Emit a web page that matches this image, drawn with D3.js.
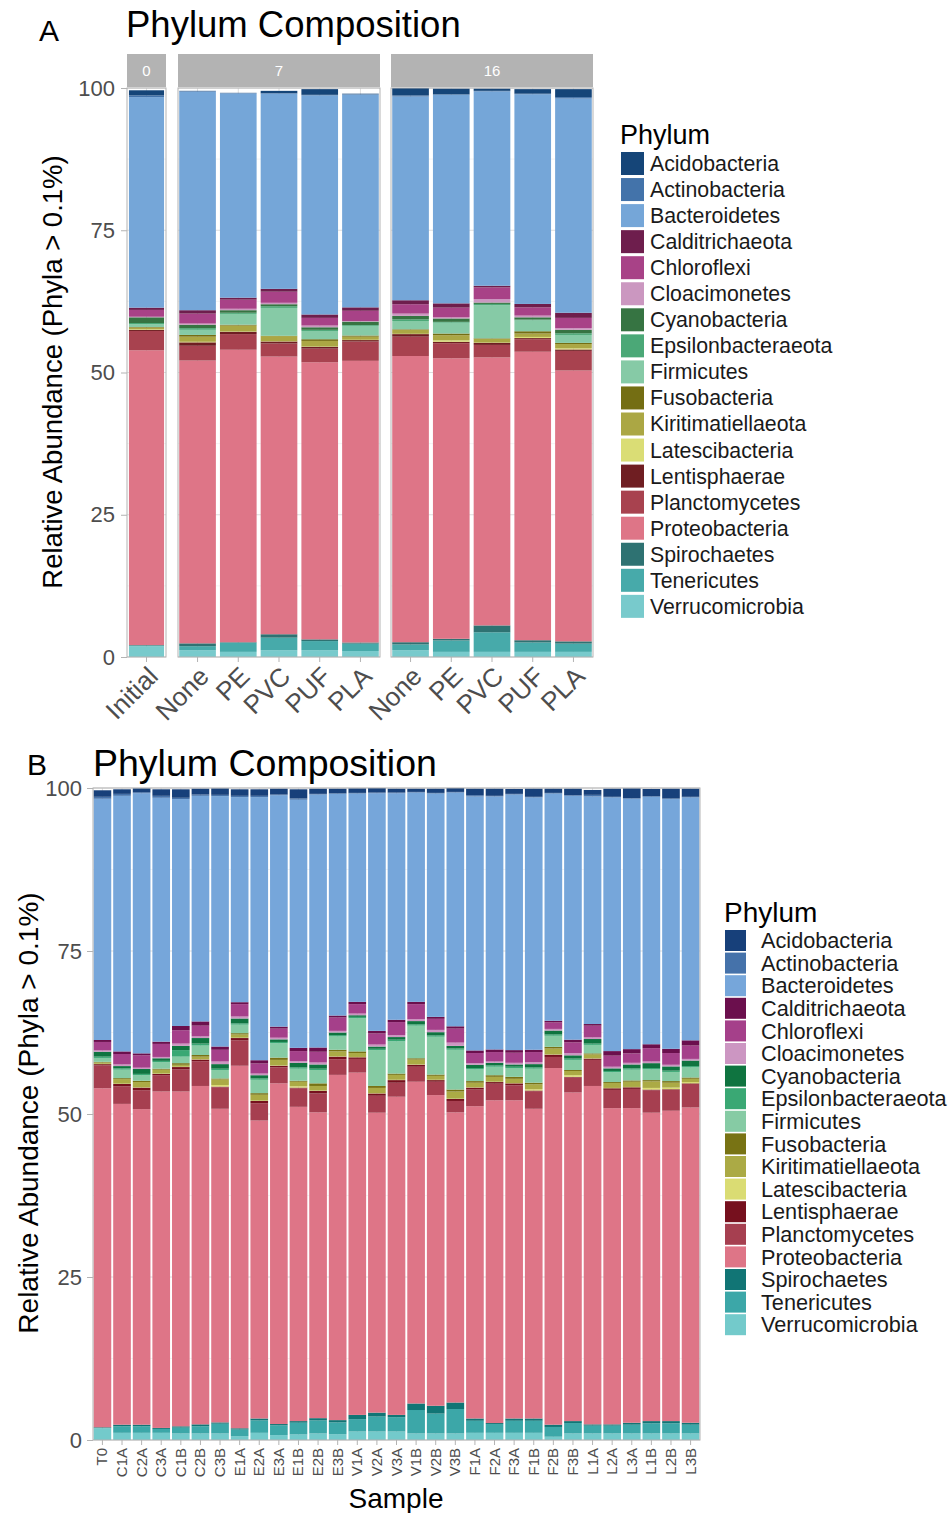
<!DOCTYPE html>
<html>
<head>
<meta charset="utf-8">
<style>
  body { margin: 0; background: #fff; }
  text { font-family: "Liberation Sans", Arial, sans-serif; }
</style>
</head>
<body>
<svg width="951" height="1513"></svg>
<script src="https://d3js.org/d3.v7.min.js"></script>
<script>
var phyla = ["Acidobacteria", "Actinobacteria", "Bacteroidetes", "Calditrichaeota", "Chloroflexi",
  "Cloacimonetes", "Cyanobacteria", "Epsilonbacteraeota", "Firmicutes", "Fusobacteria",
  "Kiritimatiellaeota", "Latescibacteria", "Lentisphaerae", "Planctomycetes", "Proteobacteria",
  "Spirochaetes", "Tenericutes", "Verrucomicrobia"];

var colorsA = ["#154578", "#4373AA", "#75A6D8", "#6E1E4D", "#A84287", "#CB97C0", "#367442", "#4BA877",
  "#86CAA6", "#746E13", "#ABA744", "#DADD75", "#6F1E22", "#A8424F", "#DE7587", "#2E7272", "#47AAAA", "#78CACC"];
var colorsB = ["#17407A", "#4572AA", "#76A6DA", "#6B0F4D", "#A5408A", "#CC96C2", "#0F7440", "#3AA874",
  "#86CBA4", "#787314", "#ABAA45", "#DADC73", "#76101E", "#A63F50", "#DE7587", "#117575", "#3CA7A8", "#73CACB"];

var yTicks = [0, 25, 50, 75, 100];

// ---- panel A : facets by day ----
var daysA = ["0", "7", "16"];
var samplesA = [["Initial"], ["None", "PE", "PVC", "PUF", "PLA"], ["None", "PE", "PVC", "PUF", "PLA"]];

// values follow the order of phyla
var a_Initial = [0.9, 0.3, 37.0, 0.4, 1.2, 0.1, 1.0, 0.2, 0.5, 0.1, 0.3, 0.1, 0.2, 3.4, 51.8, 0.1, 0.1, 1.9];
var a_None7  = [0.05, 0.1, 38.4, 0.6, 1.75, 0.2, 0.6, 0.3, 0.9, 0.3, 0.9, 0.1, 0.6, 2.6, 49.7, 0.5, 0.7, 1.2];
var a_PE7    = [0.05, 0.05, 35.9, 0.35, 1.6, 0.25, 0.45, 0.2, 1.9, 0.15, 1.05, 0.05, 0.4, 2.75, 51.4, 0.1, 1.6, 0.9];
var a_PVC7   = [0.4, 0.1, 34.3, 0.5, 1.95, 0.25, 0.35, 0.3, 4.9, 0.05, 0.9, 0.05, 0.35, 2.3, 48.8, 0.6, 2.2, 1.2];
var a_PUF7   = [1.0, 0.1, 38.5, 0.6, 1.35, 0.3, 0.45, 0.2, 1.45, 0.3, 1.0, 0.05, 0.3, 2.4, 48.7, 0.3, 1.6, 1.2];
var a_PLA7   = [0.1, 0.05, 37.4, 0.6, 1.8, 0.1, 0.6, 0.15, 1.7, 0.2, 0.55, 0.05, 0.25, 3.4, 49.5, 0.2, 1.3, 1.05];
var a_None16 = [1.3, 0.2, 35.8, 0.7, 1.65, 0.4, 0.6, 0.3, 1.45, 0.1, 0.7, 0.05, 0.45, 3.4, 50.3, 0.4, 1.0, 1.2];
var a_PE16   = [1.0, 0.1, 36.65, 0.75, 1.7, 0.2, 0.6, 0.15, 1.9, 0.3, 0.9, 0.25, 0.25, 2.65, 49.3, 0.3, 2.0, 0.9];
var a_PVC16  = [0.4, 0.1, 34.15, 0.3, 2.05, 0.6, 0.25, 0.25, 5.8, 0.1, 0.65, 0.05, 0.35, 2.2, 47.1, 1.2, 3.45, 0.9];
var a_PUF16  = [0.8, 0.1, 36.85, 0.6, 1.45, 0.3, 0.4, 0.15, 1.9, 0.4, 0.6, 0.2, 0.2, 2.2, 50.7, 0.4, 1.65, 0.9];
var a_PLA16  = [1.4, 0.25, 37.65, 0.9, 1.8, 0.3, 0.6, 0.3, 1.4, 0.2, 0.75, 0.2, 0.25, 3.45, 47.6, 0.4, 1.45, 0.9];

var valuesA = [[a_Initial],
  [a_None7, a_PE7, a_PVC7, a_PUF7, a_PLA7],
  [a_None16, a_PE16, a_PVC16, a_PUF16, a_PLA16]];

// ---- panel B : every sample ----
var samplesB = ["T0", "C1A", "C2A", "C3A", "C1B", "C2B", "C3B", "E1A", "E2A", "E3A", "E1B", "E2B", "E3B",
  "V1A", "V2A", "V3A", "V1B", "V2B", "V3B", "F1A", "F2A", "F3A", "F1B", "F2B", "F3B",
  "L1A", "L2A", "L3A", "L1B", "L2B", "L3B"];

var b_T0  = [1.0, 0.3, 37.0, 0.3, 1.3, 0.2, 0.75, 0.2, 0.6, 0.1, 0.2, 0.05, 0.2, 3.5, 52.0, 0.1, 0.05, 1.8];
var b_C1A = [0.7, 0.3, 39.2, 0.4, 1.6, 0.25, 0.35, 0.2, 1.3, 0.15, 0.7, 0.05, 0.35, 2.7, 49.2, 0.25, 1.0, 1.1];
var b_C2A = [0.6, 0.15, 39.9, 0.3, 1.9, 0.2, 0.75, 0.2, 0.85, 0.2, 0.8, 0.05, 0.4, 2.9, 48.4, 0.25, 1.0, 1.1];
var b_C3A = [1.0, 0.3, 37.4, 0.35, 2.0, 0.2, 0.4, 0.2, 1.0, 0.15, 0.6, 0.05, 0.2, 2.5, 51.6, 0.15, 0.6, 1.1];
var b_C1B = [1.3, 0.2, 34.8, 0.65, 2.05, 0.35, 0.65, 1.0, 1.0, 0.25, 0.3, 0.05, 0.35, 3.4, 51.35, 0.2, 0.9, 1.0];
var b_C2B = [0.9, 0.2, 34.6, 0.65, 1.65, 0.25, 0.85, 0.3, 1.45, 0.25, 0.4, 0.05, 0.25, 3.8, 51.9, 0.3, 1.1, 1.0];
var b_C3B = [1.0, 0.2, 38.4, 0.5, 1.8, 0.4, 0.7, 0.2, 1.3, 0.15, 0.85, 0.25, 0.1, 3.3, 48.1, 0.2, 1.5, 1.0];
var b_E1A = [1.0, 0.2, 31.45, 0.3, 1.9, 0.3, 0.75, 0.2, 1.3, 0.2, 0.5, 0.05, 0.35, 3.9, 55.6, 0.2, 1.0, 0.6];
var b_E2A = [1.0, 0.2, 40.35, 0.5, 1.55, 0.25, 0.5, 0.2, 2.05, 0.25, 0.9, 0.05, 0.35, 2.65, 45.7, 0.3, 1.9, 1.1];
var b_E3A = [0.9, 0.1, 35.5, 0.3, 1.4, 0.25, 0.4, 0.2, 2.2, 0.35, 0.85, 0.05, 0.25, 2.45, 52.25, 0.2, 1.5, 0.75];
var b_E1B = [1.4, 0.2, 38.05, 0.5, 1.55, 0.25, 0.7, 0.2, 1.85, 0.15, 0.7, 0.2, 0.1, 2.85, 48.2, 0.25, 1.8, 0.85];
var b_E2B = [0.8, 0.1, 38.8, 0.65, 1.65, 0.3, 0.65, 0.2, 2.05, 0.4, 0.7, 0.05, 0.4, 2.9, 46.9, 0.35, 2.0, 1.0];
var b_E3B = [0.7, 0.1, 34.0, 0.3, 2.05, 0.25, 0.4, 0.2, 2.05, 0.25, 0.75, 0.05, 0.4, 2.4, 52.95, 0.35, 1.8, 0.9];
var b_V1A = [0.7, 0.1, 31.95, 0.35, 1.45, 0.25, 0.25, 0.2, 5.1, 0.25, 0.6, 0.05, 0.25, 2.1, 52.5, 0.65, 1.9, 1.3];
var b_V2A = [0.7, 0.1, 36.45, 0.4, 1.7, 0.3, 0.35, 0.2, 5.5, 0.3, 0.8, 0.05, 0.35, 2.6, 46.0, 0.6, 2.3, 1.3];
var b_V3A = [0.6, 0.1, 34.75, 0.35, 2.0, 0.3, 0.4, 0.25, 4.95, 0.2, 0.75, 0.05, 0.4, 2.15, 48.8, 0.35, 2.2, 1.3];
var b_V1B = [0.5, 0.1, 32.1, 0.35, 2.3, 0.3, 0.5, 0.2, 5.0, 0.2, 0.75, 0.05, 0.3, 2.3, 49.35, 1.0, 3.6, 1.0];
var b_V2B = [0.65, 0.1, 34.25, 0.3, 1.7, 0.35, 0.5, 0.2, 5.8, 0.2, 0.6, 0.05, 0.25, 2.05, 47.65, 1.2, 3.05, 1.0];
var b_V3B = [0.6, 0.1, 35.85, 0.35, 2.15, 0.5, 0.4, 0.2, 6.1, 0.3, 1.1, 0.05, 0.3, 1.75, 44.5, 1.0, 3.75, 1.0];
var b_F1A = [1.0, 0.2, 38.95, 0.4, 1.55, 0.25, 0.5, 0.2, 1.8, 0.25, 0.7, 0.05, 0.3, 2.55, 47.9, 0.35, 1.85, 1.1];
var b_F2A = [1.1, 0.1, 38.8, 0.4, 1.45, 0.2, 0.4, 0.2, 1.3, 0.25, 0.75, 0.05, 0.25, 2.55, 49.5, 0.15, 1.35, 1.1];
var b_F3A = [0.75, 0.1, 39.2, 0.4, 1.55, 0.25, 0.35, 0.2, 1.35, 0.3, 0.65, 0.05, 0.3, 2.3, 48.8, 0.35, 1.85, 1.1];
var b_F1B = [1.25, 0.1, 38.7, 0.35, 1.55, 0.3, 0.5, 0.2, 2.15, 0.25, 0.75, 0.2, 0.1, 2.7, 47.5, 0.35, 1.85, 1.1];
var b_F2B = [0.65, 0.1, 34.85, 0.25, 1.0, 0.25, 0.6, 0.2, 1.7, 0.25, 0.9, 0.05, 0.35, 1.7, 54.7, 0.35, 1.5, 0.5];
var b_F3B = [1.0, 0.1, 37.4, 0.4, 1.65, 0.35, 0.5, 0.2, 1.55, 0.15, 0.65, 0.25, 0.1, 2.3, 50.4, 0.3, 1.6, 1.0];
var b_L1A = [0.75, 0.25, 34.9, 0.25, 1.8, 0.25, 0.7, 0.2, 1.3, 0.15, 0.6, 0.05, 0.2, 4.0, 51.9, 0.2, 1.2, 1.0];
var b_L2A = [1.25, 0.1, 38.9, 0.7, 1.7, 0.25, 0.4, 0.2, 1.5, 0.15, 0.75, 0.05, 0.25, 2.8, 48.5, 0.2, 1.2, 1.0];
var b_L3A = [1.5, 0.1, 38.4, 0.65, 1.45, 0.25, 0.6, 0.2, 1.65, 0.2, 0.8, 0.05, 0.25, 2.95, 48.25, 0.3, 1.35, 1.0];
var b_L1B = [1.1, 0.1, 37.95, 0.6, 2.05, 0.25, 0.75, 0.2, 1.65, 0.2, 1.0, 0.25, 0.1, 3.45, 47.3, 0.35, 1.55, 1.0];
var b_L2B = [1.5, 0.1, 38.3, 0.65, 1.8, 0.25, 0.65, 0.2, 1.4, 0.25, 0.75, 0.25, 0.1, 3.2, 47.6, 0.35, 1.55, 1.0];
var b_L3B = [1.25, 0.1, 37.25, 0.8, 2.05, 0.25, 0.85, 0.2, 1.55, 0.2, 0.5, 0.2, 0.1, 3.6, 48.35, 0.3, 1.35, 1.0];

var valuesB = [b_T0, b_C1A, b_C2A, b_C3A, b_C1B, b_C2B, b_C3B, b_E1A, b_E2A, b_E3A, b_E1B, b_E2B, b_E3B,
  b_V1A, b_V2A, b_V3A, b_V1B, b_V2B, b_V3B, b_F1A, b_F2A, b_F3A, b_F1B, b_F2B, b_F3B,
  b_L1A, b_L2A, b_L3A, b_L1B, b_L2B, b_L3B];

// ---------------------------------------------------------------
var svg = d3.select("svg");
var axisGrey = "#4D4D4D", lineGrey = "#B3B3B3";

function toRows(names, vals) {
  return names.map(function(n, i) {
    var row = {sample: n};
    phyla.forEach(function(p, j) { row[p] = vals[i][j]; });
    return row;
  });
}

// first phylum ends on top, like ggplot's stacking
var stack = d3.stack().keys(phyla.slice().reverse());

function drawPanel(g, x, y, rows, color) {
  var x0 = x.range()[0], x1 = x.range()[1];
  var y0 = y.range()[0], y1 = y.range()[1];
  // grid
  g.selectAll(".minor").data([12.5, 37.5, 62.5, 87.5]).enter().append("line")
    .attr("x1", x0).attr("x2", x1).attr("y1", y).attr("y2", y)
    .attr("stroke", "#EDEDED").attr("stroke-width", 0.6);
  g.selectAll(".major").data(yTicks).enter().append("line")
    .attr("x1", x0).attr("x2", x1).attr("y1", y).attr("y2", y)
    .attr("stroke", "#DEDEDE").attr("stroke-width", 1);
  g.selectAll(".vgrid").data(x.domain()).enter().append("line")
    .attr("x1", function(d) { return x(d) + x.bandwidth() / 2; })
    .attr("x2", function(d) { return x(d) + x.bandwidth() / 2; })
    .attr("y1", y0).attr("y2", y1)
    .attr("stroke", "#DEDEDE").attr("stroke-width", 1);

  var layers = stack(rows);
  g.selectAll(".layer").data(layers).enter().append("g")
    .attr("fill", function(d) { return color(d.key); })
    .selectAll("rect").data(function(d) { return d; }).enter().append("rect")
    .attr("x", function(d) { return x(d.data.sample); })
    .attr("width", x.bandwidth())
    .attr("y", function(d) { return y(d[1]); })
    .attr("height", function(d) { return y(d[0]) - y(d[1]); });

  g.append("rect")
    .attr("x", x0).attr("y", y1).attr("width", x1 - x0).attr("height", y0 - y1)
    .attr("fill", "none").attr("stroke", lineGrey).attr("stroke-width", 1);
}

function styleAxis(ax, size) {
  ax.select(".domain").remove();
  ax.selectAll(".tick line").attr("stroke", lineGrey);
  ax.selectAll(".tick text").attr("fill", axisGrey).style("font-size", size + "px")
    .style("font-family", "'Liberation Sans', Arial, sans-serif");
}

function drawLegend(x, y, step, size, gap, fontSize, titleSize, color) {
  var lg = svg.append("g").attr("transform", "translate(" + x + "," + y + ")");
  lg.append("text").attr("x", -1).attr("y", -8).style("font-size", titleSize + "px")
    .attr("fill", "#000").text("Phylum");
  var item = lg.selectAll(".item").data(phyla).enter().append("g")
    .attr("transform", function(d, i) { return "translate(0," + (i * step) + ")"; });
  item.append("rect").attr("width", size).attr("height", size)
    .attr("fill", function(d) { return color(d); });
  item.append("text").attr("x", size + gap).attr("y", size / 2)
    .attr("dy", "0.35em").style("font-size", fontSize + "px").attr("fill", "#1A1A1A")
    .text(function(d) { return d; });
}

// ---------------- Panel A ----------------
var colorA = d3.scaleOrdinal().domain(phyla).range(colorsA);
var yA = d3.scaleLinear().domain([0, 100]).range([657, 88]);
var facetX = [[127, 166], [178, 380], [391, 593]];

svg.append("text").attr("x", 39).attr("y", 41).style("font-size", "30px").text("A");
svg.append("text").attr("x", 126).attr("y", 37).style("font-size", "36.5px").text("Phylum Composition");

daysA.forEach(function(day, f) {
  var x = d3.scaleBand().domain(samplesA[f]).range(facetX[f]).paddingInner(0.1).paddingOuter(0.03);
  var g = svg.append("g");
  drawPanel(g, x, yA, toRows(samplesA[f], valuesA[f]), colorA);

  // strip
  svg.append("rect").attr("x", facetX[f][0]).attr("y", 54)
    .attr("width", facetX[f][1] - facetX[f][0]).attr("height", 33).attr("fill", lineGrey);
  svg.append("text").attr("x", (facetX[f][0] + facetX[f][1]) / 2).attr("y", 71)
    .attr("dy", "0.35em").attr("text-anchor", "middle").attr("fill", "#fff")
    .style("font-size", "15px").text(day);

  var ax = svg.append("g").attr("transform", "translate(0,657)")
    .call(d3.axisBottom(x).tickSize(5));
  styleAxis(ax, 26);
  ax.selectAll(".tick text").attr("y", 0).attr("dy", null)
    .attr("transform", "translate(13,21) rotate(-45)").style("text-anchor", "end");
});

var axA = svg.append("g").attr("transform", "translate(127,0)")
  .call(d3.axisLeft(yA).tickValues(yTicks).tickSize(6).tickPadding(6));
styleAxis(axA, 22);

svg.append("text").attr("transform", "translate(62,372) rotate(-90)")
  .attr("text-anchor", "middle").style("font-size", "27.5px")
  .text("Relative Abundance (Phyla > 0.1%)");

drawLegend(621, 152, 26.05, 23, 6, 21.3, 27, colorA);

// ---------------- Panel B ----------------
var colorB = d3.scaleOrdinal().domain(phyla).range(colorsB);
var yB = d3.scaleLinear().domain([0, 100]).range([1440, 788]);
var xB = d3.scaleBand().domain(samplesB).range([93, 700]).paddingInner(0.1).paddingOuter(0.03);

svg.append("text").attr("x", 27).attr("y", 775).style("font-size", "30px").text("B");
svg.append("text").attr("x", 93).attr("y", 776).style("font-size", "37.5px").text("Phylum Composition");

drawPanel(svg.append("g"), xB, yB, toRows(samplesB, valuesB), colorB);

var axBx = svg.append("g").attr("transform", "translate(0,1440)")
  .call(d3.axisBottom(xB).tickSize(5));
styleAxis(axBx, 15);
axBx.selectAll(".tick text").attr("y", 0).attr("dy", null)
  .attr("transform", "translate(5,8) rotate(-90)").style("text-anchor", "end");

var axBy = svg.append("g").attr("transform", "translate(93,0)")
  .call(d3.axisLeft(yB).tickValues(yTicks).tickSize(6).tickPadding(5));
styleAxis(axBy, 22);

svg.append("text").attr("transform", "translate(38,1113) rotate(-90)")
  .attr("text-anchor", "middle").style("font-size", "28px")
  .text("Relative Abundance (Phyla > 0.1%)");

svg.append("text").attr("x", 396).attr("y", 1508).attr("text-anchor", "middle")
  .style("font-size", "28px").text("Sample");

drawLegend(725, 930, 22.6, 21, 15, 21.7, 28, colorB);
</script>
</body>
</html>
